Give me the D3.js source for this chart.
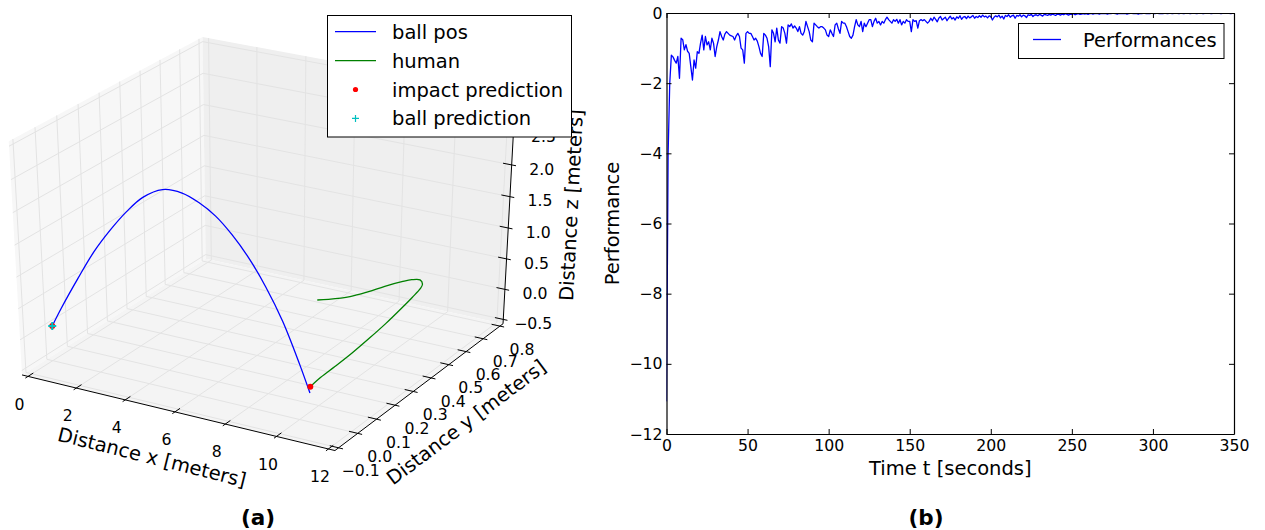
<!DOCTYPE html>
<html><head><meta charset="utf-8">
<script src="https://cdn.jsdelivr.net/npm/d3@7"></script>
<style>
body{margin:0;background:#fff}
svg{display:block}
text{font-family:"DejaVu Sans",sans-serif;fill:#000}
</style>
</head><body>
<svg id="c" width="1265" height="530"></svg>
<script>
// ---------------- DATA ----------------
// 3D panel (a)
const xTicks3d = [0, 2, 4, 6, 8, 10, 12];
const yTicks3d = [-0.1, 0.0, 0.1, 0.2, 0.3, 0.4, 0.5, 0.6, 0.7, 0.8];
const zTicks3d = [-0.5, 0.0, 0.5, 1.0, 1.5, 2.0, 2.5, 3.0];
const zTickLabels3d = ["−0.5", "0.0", "0.5", "1.0", "1.5", "2.0", "2.5", ""];
const ballX = [0.05, 0.47, 1.20, 1.90, 2.60, 3.28, 3.94, 4.72, 5.48, 6.12, 6.76, 7.39, 8.03, 8.67, 9.32, 9.98, 10.39];
const ballY = [0, 0, 0, 0, 0, 0, 0, 0, 0, 0, 0, 0, 0, 0, 0, 0, 0];
const ballZ = [0.00, 0.33, 0.86, 1.34, 1.74, 2.08, 2.35, 2.53, 2.54, 2.45, 2.30, 2.07, 1.77, 1.39, 0.92, 0.31, -0.11];
const humanX = [10.32, 10.32, 10.32, 10.32, 10.32, 10.32, 10.32, 10.32, 10.32, 10.32, 10.32, 10.32, 10.32, 10.32, 10.32, 10.32, 10.32, 10.32];
const humanY = [0.042, 0.100, 0.213, 0.308, 0.401, 0.496, 0.552, 0.600, 0.615, 0.603, 0.558, 0.503, 0.413, 0.322, 0.230, 0.139, 0.065, 0.011];
const humanZ = [1.25, 1.14, 0.95, 0.83, 0.73, 0.61, 0.53, 0.43, 0.33, 0.28, 0.23, 0.18, 0.11, 0.06, 0.02, 0.00, -0.01, -0.04];
const impactX = [0.05, 10.32], impactY = [0.0, 0.011], impactZ = [0.0, -0.04];
const predX = [0.05], predY = [0.0], predZ = [0.0];
const legend3d = ["ball pos", "human", "impact prediction", "ball prediction"];

// 2D panel (b)
const perfValues = [
-11.07,-4.0,-2.0,-1.2,-1.25,-1.35,-1.43,-1.24,-1.86,-0.72,
-0.76,-1.05,-0.90,-1.09,-1.15,-1.53,-1.91,-1.34,-1.57,-1.10,
-1.15,-0.86,-0.63,-1.05,-0.67,-0.91,-0.82,-1.05,-0.72,-0.86,
-1.24,-0.96,-0.77,-0.53,-0.67,-0.77,-0.60,-0.53,-0.58,-0.63,
-0.65,-0.67,-0.77,-0.65,-0.58,-0.67,-1.00,-1.05,-1.43,-0.58,
-0.53,-0.58,-0.58,-0.67,-0.77,-0.72,-0.80,-0.96,-1.15,-1.24,
-0.58,-0.63,-0.72,-0.96,-1.53,-0.48,-0.58,-0.82,-0.43,-0.77,
-0.86,-0.39,-0.43,-0.58,-0.86,-0.34,-0.39,-0.31,-0.43,-0.37,
-0.43,-0.53,-0.39,-0.58,-0.63,-0.53,-0.24,-0.39,-0.53,-0.77,
-0.82,-0.29,-0.34,-0.39,-0.43,-0.39,-0.39,-0.43,-0.48,-0.63,
-0.67,-0.48,-0.58,-0.67,-0.34,-0.29,-0.45,-0.58,-0.24,-0.29,
-0.29,-0.39,-0.53,-0.67,-0.72,-0.63,-0.39,-0.19,-0.34,-0.39,
-0.24,-0.53,-0.29,-0.39,-0.29,-0.19,-0.19,-0.39,-0.24,-0.15,
-0.29,-0.24,-0.34,-0.24,-0.29,-0.19,-0.12,-0.19,-0.24,-0.29,
-0.19,-0.24,-0.18,-0.29,-0.19,-0.34,-0.24,-0.29,-0.19,-0.24,
-0.24,-0.53,-0.19,-0.24,-0.22,-0.43,-0.22,-0.19,-0.22,-0.19,
-0.24,-0.29,-0.24,
-0.15,-0.22,-0.12,-0.18,-0.25,-0.14,-0.10,-0.20,-0.16,-0.12,
-0.22,-0.15,-0.09,-0.17,-0.13,-0.20,-0.11,-0.15,-0.08,-0.18,
-0.12,-0.10,-0.16,-0.09,-0.14,-0.11,-0.07,-0.15,-0.10,-0.13,
-0.08,-0.12,-0.06,-0.11,-0.09,-0.14,-0.08,-0.10,
-0.20,-0.12,-0.08,-0.11,-0.06,-0.14,-0.09,-0.17,-0.07,-0.10,
-0.05,-0.12,-0.08,-0.06,-0.15,-0.07,-0.09,-0.05,-0.11,-0.06,
-0.08,-0.13,-0.05,-0.07,-0.04,-0.10,-0.06,-0.05,-0.08,-0.04,
-0.06,-0.09,-0.04,-0.05,-0.07,
-0.04,-0.06,-0.03,-0.05,-0.07,-0.03,-0.04,-0.06,-0.03,-0.05,
-0.02,-0.04,-0.06,-0.03,-0.04,-0.02,-0.05,-0.03,-0.02,-0.04,
-0.03,-0.02,-0.03,-0.02,-0.04,
-0.02,-0.01,-0.03,-0.02,-0.01,-0.02,-0.03,-0.01,-0.02,-0.01,
-0.02,-0.03,-0.01,-0.02,-0.01,-0.01,-0.02,-0.03,-0.01,-0.02,
-0.01,-0.02,-0.01,-0.03,-0.02,-0.01,-0.01,-0.02,-0.01,-0.02,
-0.03,-0.01,-0.02,-0.01,-0.01,-0.02,-0.01,-0.02,-0.01,-0.01,
-0.02,-0.01,-0.01,-0.02,-0.01,-0.02,-0.01,-0.01,-0.02,-0.01,
-0.01,-0.02,-0.01,-0.01,-0.01,-0.02,-0.01,-0.01,-0.02,-0.01,
-0.01,-0.01,-0.02,-0.01,-0.01,-0.01,-0.02,-0.01,-0.01,-0.01,
-0.02,-0.01,-0.01,-0.01,-0.01,-0.02,-0.01,-0.01,-0.01,-0.01,
-0.01,-0.02,-0.01,-0.01,-0.01,-0.01,-0.01,-0.02,-0.01,-0.01
];
const perfXTicks = [0, 50, 100, 150, 200, 250, 300, 350];
const perfYTicks = [-12, -10, -8, -6, -4, -2, 0];

// ---------------- DRAW ----------------
const svg = d3.select("#c");
const FS_TICK = 15.7, FS_LAB = 19.5;

// ===== 3D projection (matplotlib-style, elev=30, azim=-60, dist=10) =====
const nx = d3.scaleLinear().domain([0, 12]).range([0, 1]);
const ny = d3.scaleLinear().domain([-0.1, 0.8]).range([0, 1]);
const nz = d3.scaleLinear().domain([-0.5, 3.0]).range([0, 1]);
const elev = 30 * Math.PI / 180, azim = -60 * Math.PI / 180, dist = 10;
const E = [0.5 + Math.cos(azim) * Math.cos(elev) * dist,
           0.5 + Math.sin(azim) * Math.cos(elev) * dist,
           0.5 + Math.sin(elev) * dist];
const sub = (a, b) => a.map((v, i) => v - b[i]);
const dot = (a, b) => a[0]*b[0] + a[1]*b[1] + a[2]*b[2];
const cross = (a, b) => [a[1]*b[2]-a[2]*b[1], a[2]*b[0]-a[0]*b[2], a[0]*b[1]-a[1]*b[0]];
const unit = a => { const m = Math.hypot(...a); return a.map(v => v / m); };
const nV = unit(sub(E, [0.5, 0.5, 0.5]));
const uV = unit(cross([0, 0, 1], nV));
const vV = cross(nV, uV);
const scrX = d3.scaleLinear().domain([-0.1, 0.1]).range([-80.35, 613.15]);
const scrY = d3.scaleLinear().domain([-0.1, 0.1]).range([492.4, -19.6]);
function projN(a, b, c) {
  const d = [a - E[0], b - E[1], c - E[2]];
  const W = -dot(nV, d);
  return [scrX(dot(uV, d) / W), scrY(dot(vV, d) / W)];
}
const projD = (x, y, z) => projN(nx(x), ny(y), nz(z));
const lo = -1 / 48, hi = 1 + 1 / 48;

const g3 = svg.append("g");
const poly = pts => pts.map(p => projN(...p).join(",")).join(" ");
const panes = [
  { pts: [[lo,lo,lo],[lo,hi,lo],[lo,hi,hi],[lo,lo,hi]], fill: "#f7f7f7" },
  { pts: [[lo,hi,lo],[hi,hi,lo],[hi,hi,hi],[lo,hi,hi]], fill: "#efefef" },
  { pts: [[lo,lo,lo],[hi,lo,lo],[hi,hi,lo],[lo,hi,lo]], fill: "#f4f4f4" }
];
g3.selectAll("polygon.pane").data(panes).join("polygon")
  .attr("class", "pane").attr("points", d => poly(d.pts)).attr("fill", d => d.fill);

const gridLines = [];
xTicks3d.forEach(t => { const v = nx(t); gridLines.push([[v,lo,lo],[v,hi,lo],[v,hi,hi]]); });
yTicks3d.forEach(t => { const v = ny(t); gridLines.push([[hi,v,lo],[lo,v,lo],[lo,v,hi]]); });
zTicks3d.forEach(t => { const v = nz(t); gridLines.push([[lo,lo,v],[lo,hi,v],[hi,hi,v]]); });
g3.selectAll("polyline.grid").data(gridLines).join("polyline")
  .attr("class", "grid").attr("points", d => poly(d))
  .attr("fill", "none").attr("stroke", "#e3e3e3").attr("stroke-width", 1);

// axis lines
const axes3 = [[[lo,lo,lo],[hi,lo,lo]], [[hi,lo,lo],[hi,hi,lo]], [[hi,hi,lo],[hi,hi,hi]]];
g3.selectAll("polyline.ax").data(axes3).join("polyline")
  .attr("class", "ax").attr("points", d => poly(d))
  .attr("fill", "none").attr("stroke", "#000").attr("stroke-width", 1);

// ticks
const tk = [];
xTicks3d.forEach(t => { const v = nx(t); tk.push([[v,lo-0.014,lo],[v,lo+0.028,lo]]); });
yTicks3d.forEach(t => { const v = ny(t); tk.push([[hi+0.014,v,lo],[hi-0.028,v,lo]]); });
zTicks3d.forEach(t => { const v = nz(t); tk.push([[hi+0.014,hi,v],[hi-0.028,hi,v]]); });
g3.selectAll("polyline.tk").data(tk).join("polyline")
  .attr("class", "tk").attr("points", d => poly(d))
  .attr("fill", "none").attr("stroke", "#000").attr("stroke-width", 1);

// tick labels
const f1 = d3.format(".1f"), f0 = d3.format("d");
g3.selectAll("text.xt").data(xTicks3d).join("text").attr("class", "xt")
  .attr("x", d => projN(nx(d), lo, lo)[0] - 8.5)
  .attr("y", d => projN(nx(d), lo, lo)[1] + 27.5)
  .attr("dy", "0.36em").attr("text-anchor", "middle").attr("font-size", FS_TICK)
  .text(d => f0(d));
g3.selectAll("text.yt").data(yTicks3d).join("text").attr("class", "yt")
  .attr("x", d => projN(hi, ny(d), lo)[0] + 22)
  .attr("y", d => projN(hi, ny(d), lo)[1] + 23)
  .attr("dy", "0.36em").attr("text-anchor", "middle").attr("font-size", FS_TICK)
  .text(d => f1(d));
g3.selectAll("text.zt").data(zTicks3d.slice(0, 7)).join("text").attr("class", "zt")
  .attr("x", d => projN(hi, hi, nz(d))[0] + 30)
  .attr("y", d => projN(hi, hi, nz(d))[1] + 4)
  .attr("dy", "0.36em").attr("text-anchor", "middle").attr("font-size", FS_TICK)
  .text((d, i) => zTickLabels3d[i]);

// axis labels
g3.append("text").attr("transform", "translate(152,457) rotate(14)")
  .attr("text-anchor", "middle").attr("dy", "0.36em").attr("font-size", FS_LAB)
  .text("Distance x [meters]");
g3.append("text").attr("transform", "translate(466,422) rotate(-37)")
  .attr("text-anchor", "middle").attr("dy", "0.36em").attr("font-size", FS_LAB)
  .text("Distance y [meters]");
g3.append("text").attr("transform", "translate(571,205) rotate(-87)")
  .attr("text-anchor", "middle").attr("dy", "0.36em").attr("font-size", FS_LAB)
  .text("Distance z [meters]");

// data
const line3 = d3.line().curve(d3.curveCatmullRom.alpha(0.5));
const ballPts = ballX.map((x, i) => projD(x, ballY[i], ballZ[i]));
const humanPts = humanX.map((x, i) => projD(x, humanY[i], humanZ[i]));
g3.append("path").attr("d", line3(ballPts)).attr("fill", "none").attr("stroke", "#0000ff").attr("stroke-width", 1.3);
g3.append("path").attr("d", line3(humanPts)).attr("fill", "none").attr("stroke", "#008000").attr("stroke-width", 1.3);
g3.selectAll("circle.imp").data(impactX.map((x, i) => projD(x, impactY[i], impactZ[i]))).join("circle")
  .attr("class", "imp").attr("cx", d => d[0]).attr("cy", d => d[1]).attr("r", 3).attr("fill", "#ff0000");
const plus = (x, y, s) => `M${x - s},${y}H${x + s}M${x},${y - s}V${y + s}`;
g3.selectAll("path.pred").data(predX.map((x, i) => projD(x, predY[i], predZ[i]))).join("path")
  .attr("class", "pred").attr("d", d => plus(d[0], d[1], 4)).attr("stroke", "#00bfbf").attr("stroke-width", 2);

// legend (a)
const lg = svg.append("g");
lg.append("rect").attr("x", 327.5).attr("y", 15.5).attr("width", 244).attr("height", 121.5)
  .attr("fill", "#fff").attr("stroke", "#000").attr("stroke-width", 1);
const rowY = i => 31.7 + i * 28.9;
legend3d.forEach((name, i) => {
  const y = rowY(i);
  if (i === 0 || i === 1) {
    lg.append("line").attr("x1", 335).attr("x2", 376).attr("y1", y).attr("y2", y)
      .attr("stroke", i === 0 ? "#0000ff" : "#008000").attr("stroke-width", 1.3);
  } else if (i === 2) {
    lg.append("circle").attr("cx", 355.5).attr("cy", y).attr("r", 2.6).attr("fill", "#ff0000");
  } else {
    lg.append("path").attr("d", plus(355.5, y, 3.5)).attr("stroke", "#00bfbf").attr("stroke-width", 1.2);
  }
  lg.append("text").attr("x", 392).attr("y", y).attr("dy", "0.36em").attr("font-size", FS_LAB).text(name);
});

svg.append("text").attr("x", 258).attr("y", 517).attr("dy", "0.36em").attr("text-anchor", "middle")
  .attr("font-size", 21.5).attr("font-weight", "bold").text("(a)");

// ===== Panel (b) =====
const L = 666.5, R = 1234, T = 13, B = 434;
const xs = d3.scaleLinear().domain([0, 350]).range([L, R]);
const ys = d3.scaleLinear().domain([-12, 0]).range([B, T]);
const gb = svg.append("g");
gb.append("clipPath").attr("id", "clipb").append("rect").attr("x", L).attr("y", T).attr("width", R - L).attr("height", B - T);
gb.append("path").datum(perfValues)
  .attr("clip-path", "url(#clipb)")
  .attr("d", d3.line().x((d, i) => xs(i)).y(d => ys(d)))
  .attr("fill", "none").attr("stroke", "#0000ff").attr("stroke-width", 1.3).attr("stroke-linejoin", "round");

const fmt = d3.format("d");
const styleAxis = sel => {
  sel.select(".domain").attr("stroke", "#000").attr("stroke-width", 1.2);
  sel.selectAll(".tick line").attr("stroke", "#000").attr("stroke-width", 1);
  sel.selectAll(".tick text").attr("font-size", FS_TICK).attr("font-family", "DejaVu Sans").attr("fill", "#000");
};
gb.append("g").attr("transform", `translate(0,${B})`)
  .call(d3.axisBottom(xs).tickValues(perfXTicks).tickFormat(fmt).tickSize(-5).tickSizeOuter(0).tickPadding(6)).call(styleAxis);
gb.append("g").attr("transform", `translate(0,${T})`)
  .call(d3.axisTop(xs).tickValues(perfXTicks).tickFormat("").tickSize(-5).tickSizeOuter(0)).call(styleAxis);
gb.append("g").attr("transform", `translate(${L},0)`)
  .call(d3.axisLeft(ys).tickValues(perfYTicks).tickFormat(fmt).tickSize(-5).tickSizeOuter(0).tickPadding(4)).call(styleAxis);
gb.append("g").attr("transform", `translate(${R},0)`)
  .call(d3.axisRight(ys).tickValues(perfYTicks).tickFormat("").tickSize(-5).tickSizeOuter(0)).call(styleAxis);

gb.append("text").attr("x", (L + R) / 2).attr("y", 468).attr("dy", "0.36em").attr("text-anchor", "middle")
  .attr("font-size", FS_LAB).text("Time t [seconds]");
gb.append("text").attr("transform", `translate(612,${(T + B) / 2}) rotate(-90)`).attr("dy", "0.36em")
  .attr("text-anchor", "middle").attr("font-size", FS_LAB).text("Performance");

// legend (b)
gb.append("rect").attr("x", 1018.5).attr("y", 23.5).attr("width", 205.5).attr("height", 35)
  .attr("fill", "#fff").attr("stroke", "#000").attr("stroke-width", 1);
gb.append("line").attr("x1", 1033).attr("x2", 1061).attr("y1", 39.5).attr("y2", 39.5)
  .attr("stroke", "#0000ff").attr("stroke-width", 1.3);
gb.append("text").attr("x", 1083).attr("y", 39.5).attr("dy", "0.36em").attr("font-size", FS_LAB).text("Performances");

svg.append("text").attr("x", 926).attr("y", 517).attr("dy", "0.36em").attr("text-anchor", "middle")
  .attr("font-size", 21.5).attr("font-weight", "bold").text("(b)");
</script>
</body></html>
